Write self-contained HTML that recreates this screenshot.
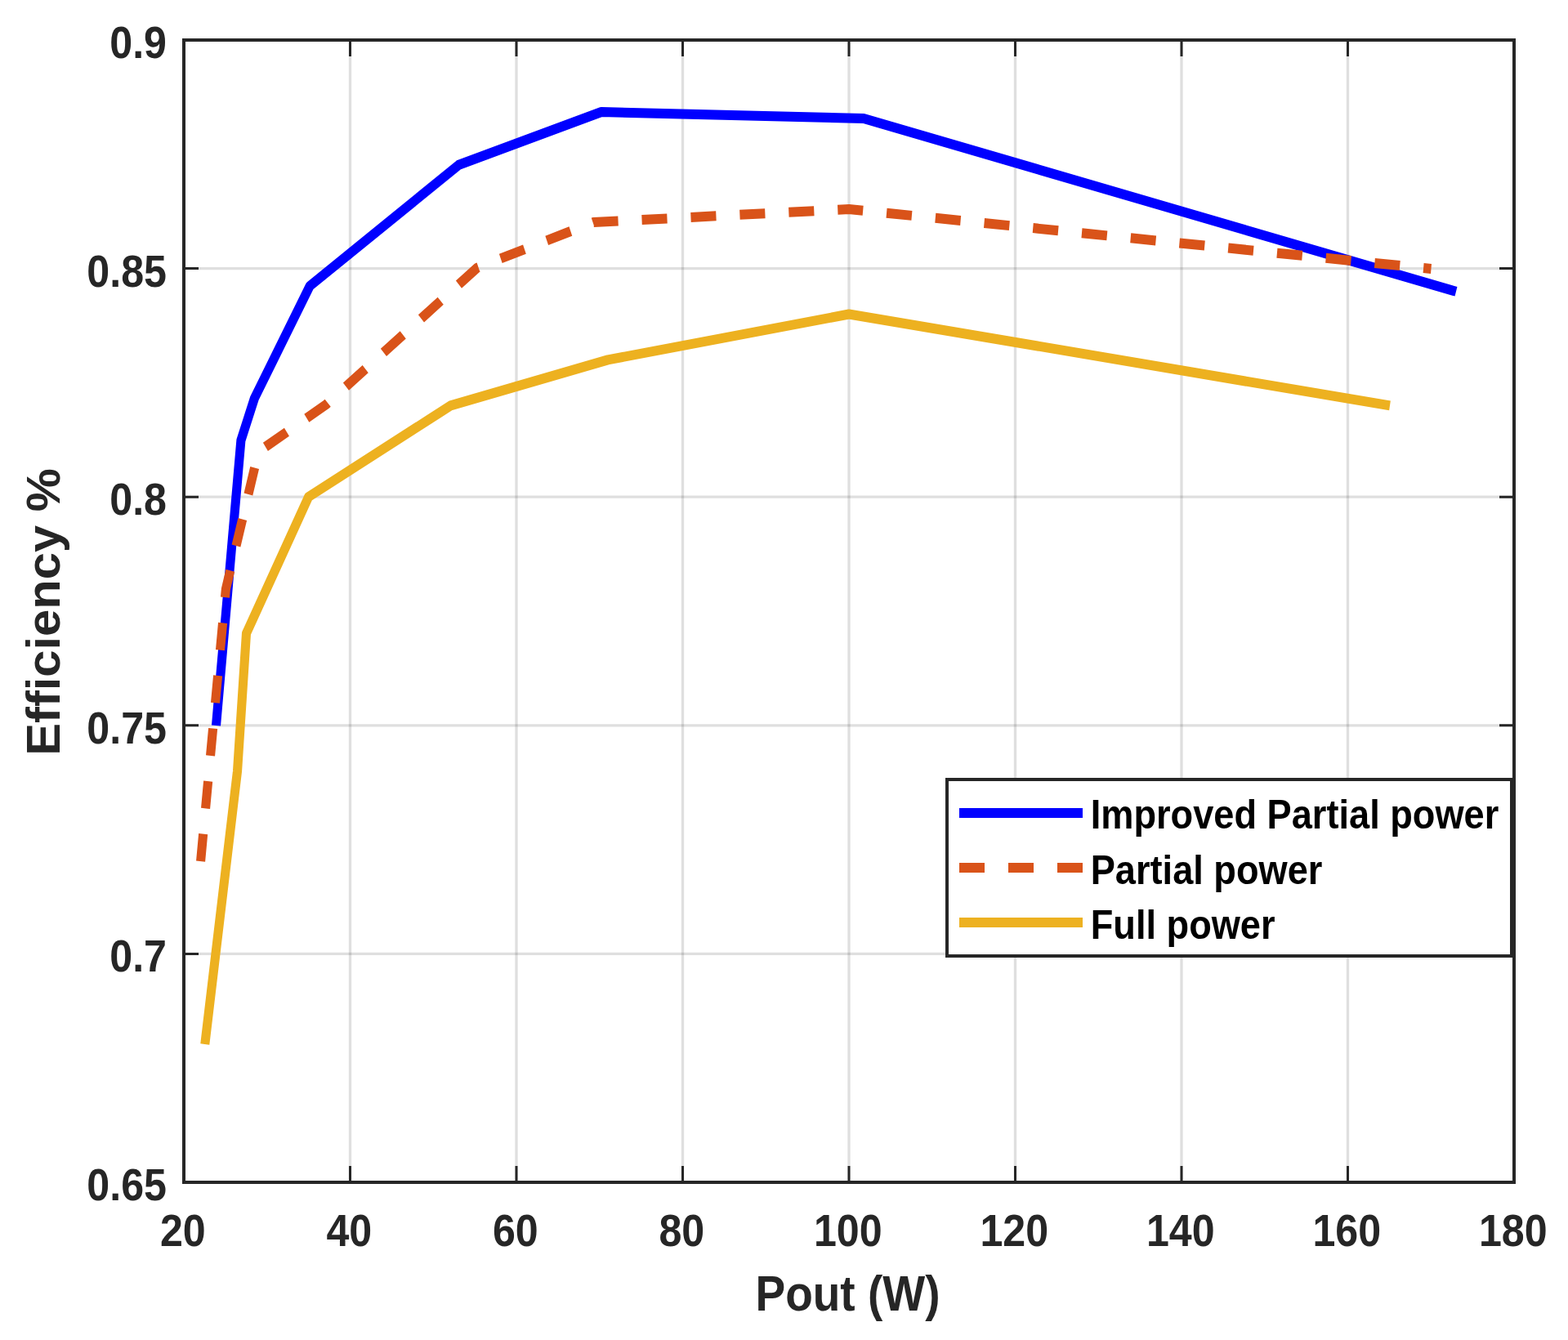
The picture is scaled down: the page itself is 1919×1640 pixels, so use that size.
<!DOCTYPE html>
<html><head><meta charset="utf-8"><title>Efficiency vs Pout</title>
<style>html,body{margin:0;padding:0;background:#fff;width:1919px;height:1640px;overflow:hidden;}svg{display:block;}text{font-family:"Liberation Sans",Arial,Helvetica,sans-serif;font-weight:bold;}</style>
</head><body>
<svg width="1919" height="1640" viewBox="0 0 1919 1640">
<rect x="0" y="0" width="1919" height="1640" fill="#ffffff"/>
<g stroke="#262626" stroke-opacity="0.15" stroke-width="3.3"><line x1="428.50" y1="49" x2="428.50" y2="1447"/><line x1="632.00" y1="49" x2="632.00" y2="1447"/><line x1="835.50" y1="49" x2="835.50" y2="1447"/><line x1="1039.00" y1="49" x2="1039.00" y2="1447"/><line x1="1242.50" y1="49" x2="1242.50" y2="1447"/><line x1="1446.00" y1="49" x2="1446.00" y2="1447"/><line x1="1649.50" y1="49" x2="1649.50" y2="1447"/><line x1="225" y1="1167.40" x2="1853" y2="1167.40"/><line x1="225" y1="887.80" x2="1853" y2="887.80"/><line x1="225" y1="608.20" x2="1853" y2="608.20"/><line x1="225" y1="328.60" x2="1853" y2="328.60"/></g>
<g transform="scale(1,1.0820)" fill="none" stroke-width="11.1" stroke-linejoin="round" stroke-linecap="butt">
<polyline stroke="#0000ff" points="264.50,820.702 294.90,498.152 311.40,450.555 379.20,323.475 561.60,186.506 736.00,126.617 1057.00,134.011 1782.00,329.760"/>
<polyline stroke="#d95319" stroke-dasharray="31 29" stroke-dashoffset="-1.8" points="245.40,975.970 276.40,666.359 316.30,510.998 399.60,457.209 584.10,302.773 726.60,251.386 1039.00,236.599 1751.50,304.067"/>
<polyline stroke="#edb120" points="250.80,1181.146 290.50,872.458 301.50,716.451 377.60,562.107 551.50,458.780 744.00,407.024 1039.00,355.360 1701.00,458.780"/>
</g>
<path d="M428.50 1447 V1427 M428.50 49 V69 M632.00 1447 V1427 M632.00 49 V69 M835.50 1447 V1427 M835.50 49 V69 M1039.00 1447 V1427 M1039.00 49 V69 M1242.50 1447 V1427 M1242.50 49 V69 M1446.00 1447 V1427 M1446.00 49 V69 M1649.50 1447 V1427 M1649.50 49 V69 M225 1167.40 H243 M1853 1167.40 H1835 M225 887.80 H243 M1853 887.80 H1835 M225 608.20 H243 M1853 608.20 H1835 M225 328.60 H243 M1853 328.60 H1835" stroke="#262626" stroke-width="3" fill="none"/>
<rect x="225" y="49" width="1628" height="1398" fill="none" stroke="#262626" stroke-width="4"/>
<g fill="#262626" font-size="55.5"><text transform="translate(223.80,1525) scale(0.9040,1)" text-anchor="middle">20</text><text transform="translate(427.30,1525) scale(0.9040,1)" text-anchor="middle">40</text><text transform="translate(630.80,1525) scale(0.9040,1)" text-anchor="middle">60</text><text transform="translate(834.30,1525) scale(0.9040,1)" text-anchor="middle">80</text><text transform="translate(1037.80,1525) scale(0.9040,1)" text-anchor="middle">100</text><text transform="translate(1241.30,1525) scale(0.9040,1)" text-anchor="middle">120</text><text transform="translate(1444.80,1525) scale(0.9040,1)" text-anchor="middle">140</text><text transform="translate(1648.30,1525) scale(0.9040,1)" text-anchor="middle">160</text><text transform="translate(1851.80,1525) scale(0.9040,1)" text-anchor="middle">180</text><text transform="translate(204,1469.00) scale(0.9040,1)" text-anchor="end">0.65</text><text transform="translate(204,1189.40) scale(0.9040,1)" text-anchor="end">0.7</text><text transform="translate(204,909.80) scale(0.9040,1)" text-anchor="end">0.75</text><text transform="translate(204,630.20) scale(0.9040,1)" text-anchor="end">0.8</text><text transform="translate(204,350.60) scale(0.9040,1)" text-anchor="end">0.85</text><text transform="translate(204,71.00) scale(0.9040,1)" text-anchor="end">0.9</text></g>
<text fill="#262626" font-size="61" transform="translate(1037.5,1604) scale(0.9016,1)" text-anchor="middle">Pout (W)</text>
<text fill="#262626" font-size="56.8" transform="translate(73,749) rotate(-90) scale(1.0506,1)" text-anchor="middle">Efficiency %</text>
<rect x="1159" y="954" width="691" height="216" fill="#ffffff" stroke="#262626" stroke-width="4"/>
<g transform="scale(1,1.0820)" fill="none" stroke-width="11.1">
<line x1="1174" y1="919.593" x2="1325" y2="919.593" stroke="#0000ff"/>
<line x1="1174" y1="981.516" x2="1325" y2="981.516" stroke="#d95319" stroke-dasharray="31 29"/>
<line x1="1174" y1="1043.438" x2="1325" y2="1043.438" stroke="#edb120"/>
</g>
<g fill="#000000" font-size="49.5">
<text transform="translate(1334.7,1014) scale(0.9130,1)">Improved Partial power</text>
<text transform="translate(1334.7,1082) scale(0.9130,1)">Partial power</text>
<text transform="translate(1334.7,1149) scale(0.9130,1)">Full power</text>
</g>
</svg>
</body></html>
